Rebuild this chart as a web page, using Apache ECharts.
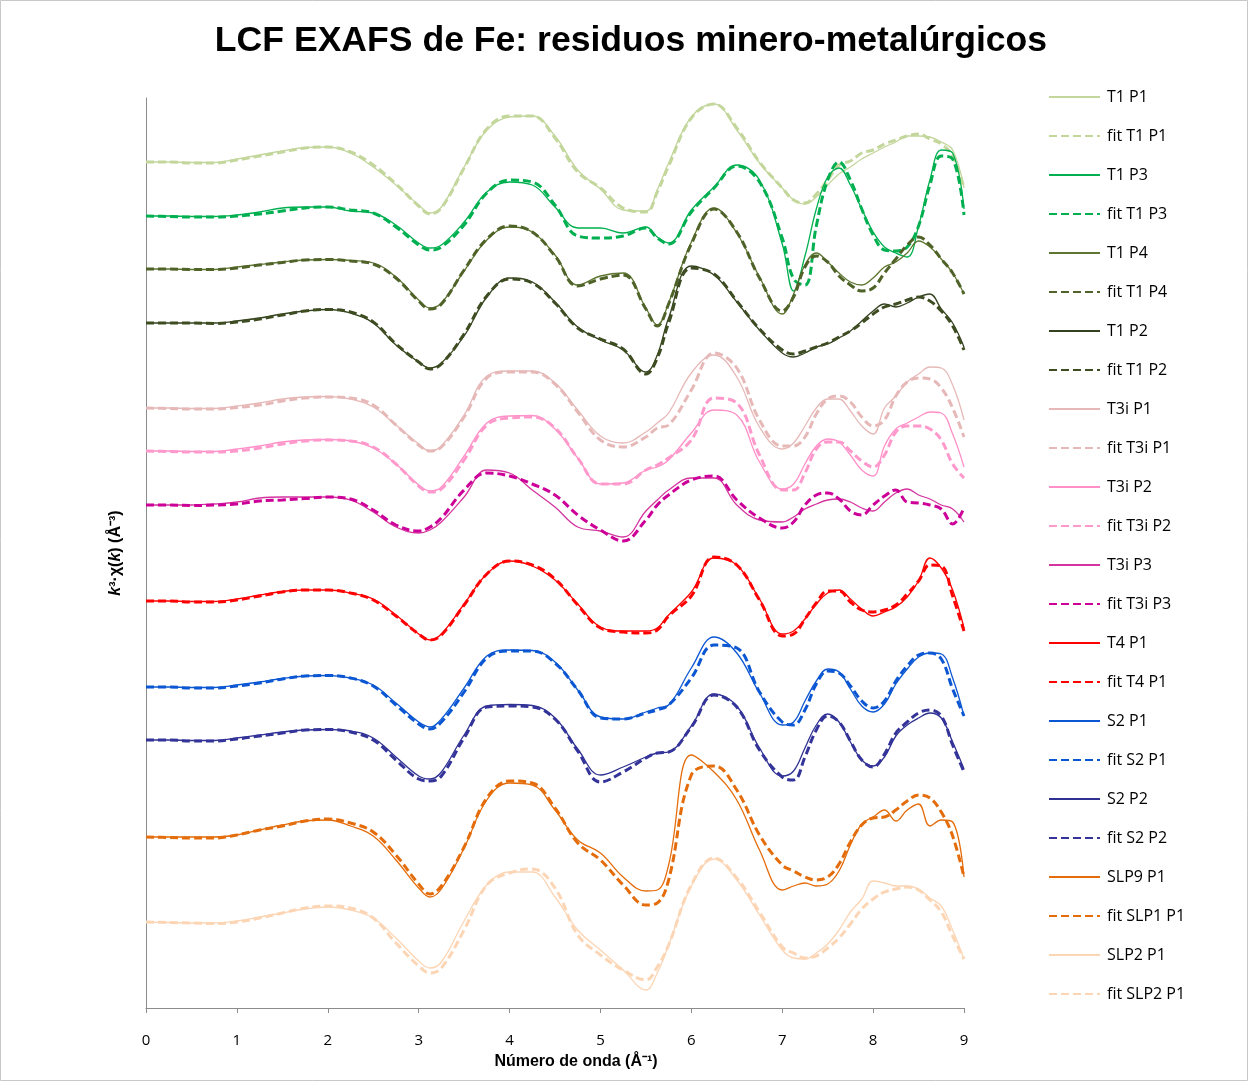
<!DOCTYPE html>
<html>
<head>
<meta charset="utf-8">
<title>LCF EXAFS de Fe</title>
<script src="https://cdn.jsdelivr.net/npm/echarts@6.0.0/dist/echarts.min.js"></script>
<style>
html, body { margin: 0; padding: 0; background: #fff; }
#chart { width: 1249px; height: 1082px; }
</style>
</head>
<body>
<div id="chart"></div>
<script>
// wave number grid (Å^-1), shared by every spectrum (finer above k = 7)
var k = [0, 0.25, 0.5, 0.75, 1, 1.25, 1.5, 1.75, 2, 2.25, 2.5, 2.75, 3, 3.125, 3.25, 3.5, 3.75, 4, 4.25, 4.5,
         4.75, 5, 5.25, 5.5, 5.625, 5.75, 6, 6.25, 6.5, 6.75,
         7, 7.125, 7.25, 7.375, 7.5, 7.625, 7.75, 7.875, 8, 8.125, 8.25, 8.375, 8.5, 8.625, 8.75, 8.875, 9];
var xTicks = [0, 1, 2, 3, 4, 5, 6, 7, 8, 9];

// k3*chi(k) with vertical offsets (arbitrary units), data and LCF fit
var t1p1    = [84.6,84.6,84.55,84.55,84.9,85.3,85.7,86.05,86.1,85.5,84.1,82.3,80.3,79.5,80.1,84.1,87.8,89.1,89.2,87.2,83.8,81.9,79.8,79.7,81.8,84.5,89.1,90.4,87.8,84.5,
               82.0,80.8,80.4,81.1,82.3,83.4,84.1,84.9,85.5,86.1,86.6,87.2,87.2,87.1,86.6,85.8,82.0];
var fitT1p1 = [84.6,84.6,84.5,84.5,84.8,85.2,85.6,86.0,86.1,85.6,84.3,82.4,80.2,79.4,80.0,84.0,87.9,89.2,89.2,87.0,83.6,82.0,80.0,79.6,81.6,84.2,89.0,90.4,88.0,84.6,
               82.0,80.8,80.5,81.4,82.8,84.3,84.7,85.5,85.8,86.4,86.8,87.2,87.4,86.9,86.4,85.2,82.0];
var t1p3    = [79.2,79.2,79.15,79.15,79.3,79.6,80.0,80.1,80.1,79.7,79.5,78.3,76.5,76.0,76.3,78.6,81.6,82.6,82.3,80.1,78.0,78.0,77.5,78.1,77.1,76.5,79.8,82.1,84.3,82.8,
               76.4,71.7,75.2,79.9,83.1,84.0,82.3,79.9,77.6,76.1,75.5,75.1,78.2,82.8,85.8,85.5,79.9];
var fitT1p3 = [79.2,79.15,79.1,79.1,79.2,79.4,79.7,80.0,80.1,79.8,79.5,78.1,76.3,75.8,76.1,78.3,81.5,82.8,82.6,80.3,77.2,77.0,77.2,78.0,77.0,76.4,79.6,82.0,84.2,82.6,
               77.0,72.9,72.3,78.2,82.8,84.6,82.8,79.9,77.3,75.8,75.7,76.1,78.2,82.3,85.2,84.9,79.3];
var t1p4    = [73.9,73.9,73.85,73.85,74.1,74.35,74.6,74.8,74.85,74.75,74.5,73.1,70.8,70.0,70.5,73.7,76.8,78.1,77.6,75.3,72.3,73.2,73.5,70.0,68.3,70.5,76.6,80.0,77.5,73.1,
               69.4,71.4,74.3,75.5,74.6,73.5,72.6,72.3,73.0,74.1,74.6,75.5,76.7,76.1,74.9,73.5,71.4];
var fitT1p4 = [73.9,73.9,73.85,73.85,74.0,74.3,74.55,74.8,74.85,74.7,74.4,73.0,70.7,69.9,70.4,73.8,76.9,78.2,77.6,75.2,72.2,72.9,73.3,69.9,68.2,70.4,76.4,79.9,77.6,73.0,
               69.7,71.1,74.1,75.2,74.6,73.2,72.3,71.7,72.0,73.5,74.9,76.3,77.1,76.3,74.9,73.5,71.4];
var t1p2    = [68.5,68.5,68.5,68.5,68.7,69.0,69.4,69.7,69.85,69.5,68.5,66.3,64.6,64.0,64.5,67.2,71.1,73.0,72.6,70.6,68.1,66.8,65.8,63.6,65.3,69.0,74.2,73.3,70.6,67.8,
               65.5,65.1,65.5,66.1,66.4,67.0,67.7,68.7,69.7,70.4,70.1,70.5,71.1,71.4,69.9,68.5,66.1];
var fitT1p2 = [68.5,68.5,68.5,68.45,68.6,68.9,69.3,69.7,69.85,69.6,68.6,66.4,64.6,63.9,64.4,67.4,71.2,72.9,72.5,70.5,68.0,66.9,65.9,63.4,65.0,68.5,74.0,73.4,70.7,67.9,
               65.8,65.4,65.7,66.1,66.5,67.1,67.7,68.5,69.4,70.1,70.4,70.8,71.1,70.7,69.7,68.2,65.8];
var t3ip1    = [60.0,60.0,59.95,59.95,60.2,60.5,60.9,61.1,61.15,60.9,60.1,58.3,56.4,55.7,56.2,59.3,63.2,63.7,63.7,62.5,59.8,57.2,56.5,57.6,58.5,59.5,63.5,65.3,63.1,58.1,
                55.9,56.5,58.2,60.0,60.9,60.9,59.7,58.2,57.4,60.0,61.2,62.6,63.4,64.1,64.0,62.3,58.8];
var fitT3ip1 = [60.0,59.95,59.9,59.9,60.05,60.3,60.7,61.0,61.1,61.0,60.3,58.3,56.3,55.7,56.1,59.1,63.0,63.6,63.6,62.4,59.6,56.8,56.1,57.1,58.0,58.3,61.8,65.5,64.0,58.8,
                56.2,56.2,57.1,59.4,60.9,61.2,60.6,59.1,58.2,58.8,61.2,62.6,63.0,62.9,62.0,60.0,57.1];
var t3ip2    = [55.7,55.7,55.65,55.65,55.9,56.2,56.6,56.8,56.85,56.7,56.0,54.4,52.3,51.7,52.1,55.2,58.5,59.2,59.25,57.9,55.0,52.4,52.5,53.8,54.1,54.8,57.5,59.8,59.3,54.6,
                51.9,52.4,54.4,56.2,56.9,56.6,55.3,53.8,53.2,56.2,57.9,58.5,59.1,59.6,59.5,57.4,54.1];
var fitT3ip2 = [55.7,55.65,55.6,55.6,55.7,56.0,56.4,56.7,56.8,56.7,56.1,54.4,52.2,51.6,51.9,54.8,58.3,59.0,59.1,58.0,55.0,52.4,52.4,53.8,54.3,55.0,56.8,61.0,60.5,55.3,
                51.8,51.8,53.5,55.9,56.6,56.6,55.7,54.7,54.1,55.3,57.6,58.2,58.2,57.9,56.8,54.4,53.0];
var t3ip3    = [50.3,50.3,50.3,50.4,50.6,51.0,51.1,51.1,51.1,50.8,49.6,48.1,47.5,47.8,48.6,51.1,53.8,53.5,51.8,50.1,48.1,47.7,47.1,49.7,50.8,51.8,53.0,53.0,50.3,48.8,
                48.6,49.1,49.9,50.4,50.8,50.9,50.6,50.0,49.7,50.6,51.5,51.9,51.3,50.9,50.3,49.9,48.6];
var fitT3ip3 = [50.3,50.3,50.25,50.3,50.4,50.7,50.8,50.95,51.1,50.9,49.8,48.3,47.7,48.1,49.0,51.8,53.5,53.2,52.4,51.3,49.3,47.8,46.7,48.8,50.3,51.3,52.8,53.2,50.8,49.0,
                48.0,48.6,50.3,51.3,51.5,50.9,49.7,49.3,50.3,51.2,51.8,50.6,50.5,50.3,49.9,48.4,50.0];
var t4p1    = [40.7,40.7,40.65,40.65,40.9,41.3,41.65,41.8,41.8,41.5,40.9,39.3,37.4,36.8,37.4,40.4,43.4,44.7,44.2,42.8,40.4,38.1,37.7,37.7,38.0,39.3,41.6,45.0,44.3,40.9,
               37.4,37.7,38.9,40.4,41.5,41.8,40.9,39.9,39.2,39.6,40.1,41.1,42.7,45.0,44.0,41.8,38.0];
var fitT4p1 = [40.7,40.7,40.6,40.6,40.8,41.2,41.6,41.8,41.8,41.5,40.8,39.2,37.4,36.8,37.3,40.3,43.4,44.7,44.3,42.9,40.3,38.0,37.6,37.5,37.8,39.2,41.2,45.1,44.3,40.8,
               37.2,37.4,38.9,40.5,41.7,41.7,40.6,39.8,39.6,39.8,40.3,41.4,42.7,44.3,44.2,41.2,37.7];
var s2p1    = [32.1,32.1,32.05,32.05,32.3,32.6,32.95,33.2,33.25,33.0,32.3,30.5,28.6,28.1,28.9,32.0,35.2,35.8,35.75,34.6,31.8,29.1,28.9,29.6,30.0,30.3,34.0,37.1,35.5,31.5,
               28.3,28.6,30.7,32.7,33.9,33.6,31.9,30.2,29.6,30.4,32.4,33.9,35.1,35.5,35.4,33.0,29.2];
var fitS2p1 = [32.1,32.1,32.0,32.0,32.2,32.5,32.9,33.2,33.25,33.0,32.2,30.3,28.4,27.9,28.6,31.6,35.0,35.7,35.7,34.5,31.8,29.0,28.9,29.5,29.8,30.3,33.0,36.3,36.0,31.6,
               28.6,28.3,29.8,32.4,33.7,33.5,32.2,30.7,30.0,30.7,32.7,34.2,35.3,35.5,34.9,31.9,29.2];
var s2p2    = [26.8,26.8,26.75,26.75,27.0,27.3,27.6,27.8,27.85,27.7,27.0,25.1,23.2,22.9,23.6,27.3,30.2,30.35,30.25,29.0,25.9,23.3,24.1,25.1,25.5,25.6,28.2,31.4,30.2,26.0,
               23.2,23.7,26.0,28.3,29.4,28.6,26.6,24.8,24.2,25.1,27.2,28.3,29.0,29.5,29.0,26.6,23.9];
var fitS2p2 = [26.8,26.8,26.7,26.7,26.9,27.2,27.5,27.8,27.85,27.6,26.8,24.8,22.9,22.7,23.2,27.0,30.1,30.2,30.1,28.9,25.7,22.6,23.6,25.0,25.5,25.6,28.1,31.3,30.1,25.8,
               23.1,22.8,25.1,27.8,29.2,28.6,26.7,24.8,24.1,25.4,27.5,28.6,29.5,29.8,29.2,26.3,23.6];
var slp9p1    = [17.1,17.1,17.1,17.1,17.3,17.8,18.3,18.7,18.8,18.2,17.2,14.8,12.0,11.1,11.9,16.0,20.8,22.5,22.3,19.8,16.8,15.5,13.1,11.7,11.8,14.3,25.3,23.6,20.8,15.8,
                 11.8,12.2,12.5,12.2,12.4,13.7,16.3,18.4,19.1,19.8,18.7,19.8,20.4,18.2,18.8,18.6,13.1];
var fitSlp1p1 = [17.1,17.05,17.0,17.0,17.3,17.8,18.2,18.7,18.9,18.5,17.6,15.3,12.4,11.4,12.2,16.1,21.0,22.7,22.5,20.0,16.5,14.8,12.3,10.3,10.5,12.8,23.3,24.2,21.8,17.3,
                 14.3,13.7,13.1,12.8,13.1,14.4,16.6,18.3,19.0,19.1,19.8,20.7,21.3,21.0,19.6,17.2,13.1];
var slp2p1    = [8.6,8.55,8.5,8.5,8.7,9.1,9.5,9.9,10.1,9.8,9.0,7.0,4.7,4.0,4.6,8.7,12.3,13.6,13.6,11.1,7.8,5.8,3.8,1.8,3.5,6.3,12.2,14.9,12.8,9.3,
                 5.8,5.0,4.9,5.5,6.4,7.8,9.6,10.9,12.7,12.5,12.2,12.2,11.9,11.0,10.2,7.8,4.9];
var fitSlp2p1 = [8.6,8.55,8.5,8.45,8.6,9.0,9.5,10.0,10.2,10.0,9.0,6.5,4.2,3.5,4.0,7.8,12.3,13.5,13.9,12.0,7.3,5.3,3.8,2.8,4.1,6.3,12.3,15.0,13.0,9.6,
                 6.1,5.5,5.0,5.2,6.0,7.0,8.4,9.9,10.9,11.6,11.9,12.1,11.8,10.8,9.6,7.2,4.9];

// name, values, colour, is fit (dashed)
var spectra = [
    ['T1 P1', t1p1, '#C3D69B', false],
    ['fit T1 P1', fitT1p1, '#C3D69B', true],
    ['T1 P3', t1p3, '#00B050', false],
    ['fit T1 P3', fitT1p3, '#00B050', true],
    ['T1 P4', t1p4, '#5E7530', false],
    ['fit T1 P4', fitT1p4, '#4F6228', true],
    ['T1 P2', t1p2, '#34421F', false],
    ['fit T1 P2', fitT1p2, '#3E4C22', true],
    ['T3i P1', t3ip1, '#E6B9B8', false],
    ['fit T3i P1', fitT3ip1, '#E6B9B8', true],
    ['T3i P2', t3ip2, '#FF8FC8', false],
    ['fit T3i P2', fitT3ip2, '#FF99CC', true],
    ['T3i P3', t3ip3, '#D4349E', false],
    ['fit T3i P3', fitT3ip3, '#CC0099', true],
    ['T4 P1', t4p1, '#FF0000', false],
    ['fit T4 P1', fitT4p1, '#FF0000', true],
    ['S2 P1', s2p1, '#0B56D2', false],
    ['fit S2 P1', fitS2p1, '#0B56D2', true],
    ['S2 P2', s2p2, '#2E3192', false],
    ['fit S2 P2', fitS2p2, '#333399', true],
    ['SLP9 P1', slp9p1, '#E46C0A', false],
    ['fit SLP1 P1', fitSlp1p1, '#E46C0A', true],
    ['SLP2 P1', slp2p1, '#FCD5B5', false],
    ['fit SLP2 P1', fitSlp2p1, '#FCD5B5', true]
];

var dom = document.getElementById('chart');
var myChart = echarts.init(dom, null, { renderer: 'canvas' });

var series = spectra.map(function (s) {
    return {
        name: s[0],
        type: 'line',
        smooth: 0.4,
        symbol: 'none',
        showSymbol: false,
        data: k.map(function (x, i) { return [x, s[1][i]]; }),
        lineStyle: { color: s[2], width: s[3] ? 3 : 1.3, type: s[3] ? [8, 4] : 'solid' },
        itemStyle: { color: s[2] }
    };
});

var option = {
    animation: false,
    backgroundColor: '#fff',
    title: {
        text: 'LCF EXAFS de Fe: residuos minero-metalúrgicos',
        left: 626,
        textAlign: 'center',
        top: 18,
        textStyle: { fontFamily: 'Liberation Sans', fontWeight: 'bold', fontSize: 35.6, color: '#000' }
    },
    legend: {
        orient: 'vertical',
        left: 1048,
        top: 89,
        padding: 0,
        itemWidth: 51,
        itemHeight: 16,
        itemGap: 23,
        selectedMode: false,
        itemStyle: { opacity: 0 },
        data: spectra.map(function (s) { return s[0]; }),
        // keep "fi" from turning into a ligature
        formatter: function (name) { return name.replace(/^fit/, 'f\u200Cit'); },
        textStyle: { fontFamily: 'Open Sans', fontSize: 16, lineHeight: 16, color: '#000', padding: [0, 0, 0, 2] }
    },
    grid: { left: 146, top: 98, right: 285, bottom: 74 },
    xAxis: {
        type: 'value',
        min: 0,
        max: 9,
        interval: 1,
        name: 'Número de onda (Å⁻¹)',
        nameLocation: 'middle',
        nameGap: 46,
        nameTextStyle: { fontFamily: 'Liberation Sans', fontWeight: 'bold', fontSize: 16, color: '#000', padding: [0, 0, 0, 42] },
        axisLine: { show: true, onZero: false, lineStyle: { color: '#8C8C8C', width: 1 } },
        axisTick: { show: true, length: 5, lineStyle: { color: '#8C8C8C' } },
        axisLabel: {
            margin: 25,
            fontFamily: 'Open Sans',
            fontSize: 15,
            color: '#000',
            formatter: function (v) { return xTicks.indexOf(v) >= 0 ? String(v) : ''; }
        },
        splitLine: { show: false }
    },
    yAxis: {
        type: 'value',
        min: 0,
        max: 91,
        name: '{i|k}{b|³·χ(}{i|k}{b|) (Å⁻³)}',
        nameLocation: 'middle',
        nameGap: 22,
        nameTextStyle: {
            rich: {
                i: { fontFamily: 'Liberation Sans', fontStyle: 'italic', fontWeight: 'bold', fontSize: 16, color: '#000' },
                b: { fontFamily: 'Liberation Sans', fontWeight: 'bold', fontSize: 16, color: '#000' }
            }
        },
        axisLine: { show: true, lineStyle: { color: '#8C8C8C', width: 1 } },
        axisTick: { show: false },
        axisLabel: { show: false },
        splitLine: { show: false }
    },
    graphic: [{
        type: 'rect',
        shape: { x: 0.5, y: 0.5, width: 1247, height: 1080 },
        style: { fill: 'none', stroke: '#C8C8C8', lineWidth: 1 },
        silent: true
    }],
    series: series
};

myChart.setOption(option);
</script>
</body>
</html>
